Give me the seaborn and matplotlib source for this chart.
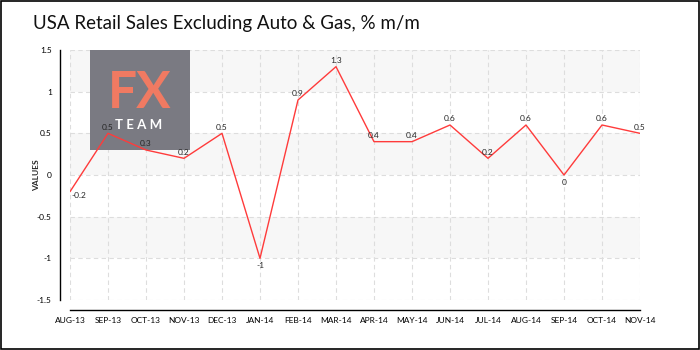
import matplotlib
matplotlib.use("Agg")
import matplotlib.pyplot as plt
import seaborn as sns
import pandas as pd
import numpy as np
from matplotlib.patches import Rectangle
from matplotlib.ticker import MultipleLocator

months = ["AUG-13", "SEP-13", "OCT-13", "NOV-13", "DEC-13", "JAN-14", "FEB-14", "MAR-14",
          "APR-14", "MAY-14", "JUN-14", "JUL-14", "AUG-14", "SEP-14", "OCT-14", "NOV-14"]
values = [-0.2, 0.5, 0.3, 0.2, 0.5, -1, 0.9, 1.3, 0.4, 0.4, 0.6, 0.2, 0.6, 0, 0.6, 0.5]
value_labels = ["-0.2", "0.5", "0.3", "0.2", "0.5", "-1", "0.9", "1.3",
                "0.4", "0.4", "0.6", "0.2", "0.6", "0", "0.6", "0.5"]
y_ticks = [-1.5, -1, -0.5, 0, 0.5, 1, 1.5]
y_tick_labels = ["-1.5", "-1", "-0.5", "0", "0.5", "1", "1.5"]
title = "USA Retail Sales Excluding Auto & Gas, % m/m"

sns.set_style("white")
plt.rcParams["font.family"] = ["Lato", "DejaVu Sans"]

df = pd.DataFrame({"idx": np.arange(len(months)), "value": values})

fig = plt.figure(figsize=(7, 3.5), dpi=100)
ax = fig.add_axes([70 / 700, 50 / 350, 570 / 700, 250 / 350])

# alternating horizontal bands
for lo in [1.0, 0.0, -1.0]:
    ax.axhspan(lo, lo + 0.5, color="#f7f7f7", zorder=0, lw=0)

# logo block
ax.add_patch(Rectangle((90 / 700, 1 - 150 / 350), 100 / 700, 100 / 350,
                       transform=fig.transFigure, facecolor="#7a7a82", edgecolor="none",
                       zorder=1.5))
fig.text(140 / 700, 1 - 108 / 350, "FX", color="#f07a62", fontsize=37, fontweight="bold",
         ha="center", va="baseline", family="Lato", zorder=3)
fig.text(139 / 700, 1 - 129 / 350, "T E A M", color="white", fontsize=9.5, fontweight="bold",
         ha="center", va="baseline", family="Lato", zorder=3)

sns.lineplot(data=df, x="idx", y="value", ax=ax, color="#ff3b3b", lw=1, zorder=4)

for i, (v, lab) in enumerate(zip(values, value_labels)):
    if i == 0:
        ax.annotate(lab, (i, v), xytext=(1, -3), textcoords="offset points",
                    ha="left", va="center", fontsize=6, zorder=5)
    elif v <= 0:
        ax.annotate(lab, (i, v), xytext=(0, -3), textcoords="offset points",
                    ha="center", va="top", fontsize=6, zorder=5)
    else:
        ax.annotate(lab, (i, v), xytext=(0, 2), textcoords="offset points",
                    ha="center", va="bottom", fontsize=6, zorder=5)

ax.set_xlim(0, len(months) - 1)
ax.set_ylim(-1.5, 1.5)

ax.tick_params(axis="y", which="major", direction="out", length=4, width=1, color="black",
               pad=2, labelsize=6, labelcolor="black")
ax.tick_params(axis="y", which="minor", direction="out", length=3, width=1, color="#e03030")
ax.tick_params(axis="x", which="major", direction="inout", length=6, width=1, color="black",
               pad=2, labelsize=6, labelcolor="black")

ax.set_xticks(np.arange(len(months)))
ax.set_xticklabels(months, fontweight="bold")
ax.set_yticks(y_ticks)
ax.set_yticklabels(y_tick_labels, fontweight="bold")
ax.yaxis.set_minor_locator(MultipleLocator(0.25))

ax.grid(True, which="major", color="#dddddd", ls=(0, (4, 3)), lw=0.8)
ax.set_axisbelow(True)

for s in ["top", "right"]:
    ax.spines[s].set_visible(False)
ax.spines["left"].set_position(("outward", 7.2))
ax.spines["bottom"].set_position(("outward", 7.2))
ax.spines["left"].set_bounds(-1.5, 1.5)
ax.spines["bottom"].set_bounds(0, len(months) - 1)
for s in ["left", "bottom"]:
    ax.spines[s].set_color("black")
    ax.spines[s].set_linewidth(1)

ax.set_xlabel("")
ax.set_ylabel("")
fig.text(37 / 700, 1 - 175 / 350, "VALUES", fontsize=6, fontweight="bold", rotation=90,
         ha="center", va="center")

fig.text(33 / 700, 1 - 29 / 350, title, fontsize=13.5, family="Lato",
         ha="left", va="baseline", color="#111111")

fig.patches.append(Rectangle((0.0015, 0.003), 0.997, 0.994, transform=fig.transFigure,
                             fill=False, edgecolor="black", lw=1.2))

fig.savefig("out.png", dpi=100)
